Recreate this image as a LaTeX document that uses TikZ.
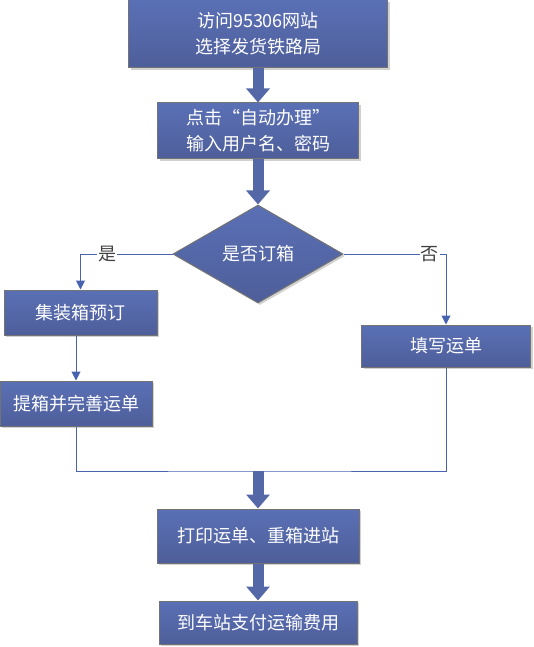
\documentclass[tikz,border=0pt]{standalone}
\usepackage{fontspec}
\newfontfamily\cjk{Noto Sans CJK SC}
\usetikzlibrary{shapes.geometric, arrows.meta, shadows}

\definecolor{boxtop}{RGB}{90,112,181}
\definecolor{boxbot}{RGB}{78,94,154}
\definecolor{linkblue}{RGB}{72,100,176}
\definecolor{fatblue}{RGB}{84,104,168}

\begin{document}
\begin{tikzpicture}[x=1pt, y=-1pt,
        box/.style={rectangle, draw=black!55, line width=1pt, top color=boxtop, bottom color=boxbot,
            text=white, font=\cjk\fontsize{18}{26}\selectfont, align=center, inner sep=0pt,
            drop shadow={shadow xshift=2pt, shadow yshift=-2pt, fill=black!18, opacity=1}},
        test/.style={box, diamond, shape aspect=2},
        link/.style={draw=linkblue, line width=1pt},
        flow/.style={link, -{Triangle[width=9pt, length=9pt]}},
        fat/.style={draw=fatblue, line width=11pt, -{Triangle[width=23pt, length=14pt]}},
        lbl/.style={fill=white, text=black!75, font=\cjk\fontsize{18}{22}\selectfont, inner sep=1pt}]
        \useasboundingbox (0, 0) rectangle (533, 647);

        \node[box, minimum width=259, minimum height=68] (visit) at (258, 34) {访问95306网站\\选择发货铁路局};
        \node[box, minimum width=201, minimum height=56] (login) at (258, 131) {点击“自动办理”\\输入用户名、密码};
        \node[test, minimum width=170, minimum height=98] (booked) at (258, 254) {是否订箱};
        \node[box, minimum width=153, minimum height=45] (book) at (80.5, 312.5) {集装箱预订};
        \node[box, minimum width=152, minimum height=45] (pick) at (76, 403.5) {提箱并完善运单};
        \node[box, minimum width=169, minimum height=42] (fill) at (446, 346) {填写运单};
        \node[box, minimum width=202, minimum height=54] (print) at (258, 536) {打印运单、重箱进站};
        \node[box, minimum width=198, minimum height=43] (pay) at (258, 622.5) {到车站支付运输费用};
        \coordinate (join) at (258, 471);

        \draw[fat] (visit) to (login);
        \draw[fat] (login) to (booked);
        \draw[flow] (booked.west) -| (book.north) node[lbl, pos=0.355] {是};
        \draw[flow] (booked.east) -| (fill.north) node[lbl, pos=0.42] {否};
        \draw[flow] (book.south -| pick.north) to (pick.north);
        \draw[link] (pick.south) |- (join) -| (fill.south);
        \draw[fat] (join) to (print.north);
        \draw[fat] (print) to (pay);
    \end{tikzpicture}
\end{document}
